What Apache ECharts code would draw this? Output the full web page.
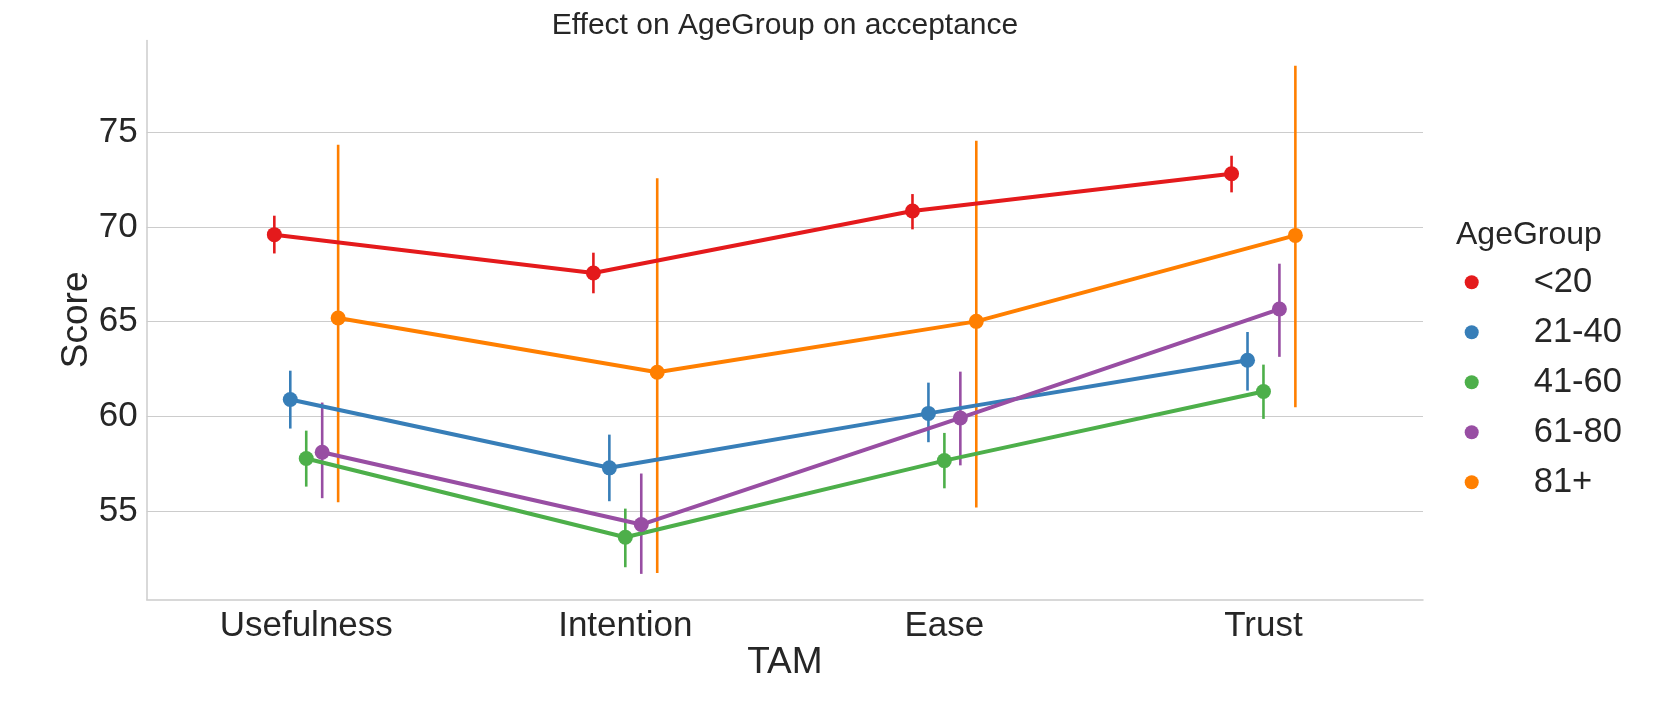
<!DOCTYPE html>
<html>
<head>
<meta charset="utf-8">
<script src="https://cdn.jsdelivr.net/npm/echarts@6/dist/echarts.min.js"></script>
<style>
  html, body { margin: 0; padding: 0; background: #fff; }
  #chart { width: 1656px; height: 720px; }
</style>
</head>
<body>
<div id="chart"></div>
<script>
// categories / groups
var tamNames = ['Usefulness', 'Intention', 'Ease', 'Trust'];
var ageGroups = ['<20', '21-40', '41-60', '61-80', '81+'];
var groupColors = ['#e41a1c', '#377eb8', '#4daf4a', '#984ea3', '#ff7f00'];
var yTicks = [55, 60, 65, 70, 75];

// mean score per TAM category (one array per age group)
var meanLt20 = [69.59, 67.57, 70.84, 72.80];
var mean21_40 = [60.90, 57.30, 60.17, 62.97];
var mean41_60 = [57.79, 53.64, 57.68, 61.32];
var mean61_80 = [58.12, 54.31, 59.93, 65.67];
var mean81p = [65.20, 62.34, 65.02, 69.55];

// confidence interval low / high
var lowLt20 = [68.60, 66.50, 69.87, 71.82];
var highLt20 = [70.59, 68.64, 71.73, 73.75];
var low21_40 = [59.37, 55.54, 58.65, 61.37];
var high21_40 = [62.42, 59.05, 61.79, 64.46];
var low41_60 = [56.31, 52.06, 56.22, 59.88];
var high41_60 = [59.26, 55.15, 59.14, 62.74];
var low61_80 = [55.70, 51.71, 57.43, 63.15];
var high61_80 = [60.74, 57.00, 62.37, 68.06];
var low81p = [55.48, 51.76, 55.21, 60.49];
var high81p = [74.33, 72.57, 74.54, 78.49];

var means = [meanLt20, mean21_40, mean41_60, mean61_80, mean81p];
var lows = [lowLt20, low21_40, low41_60, low61_80, low81p];
var highs = [highLt20, high21_40, high41_60, high61_80, high81p];

var FONT = '"Liberation Sans", Arial, sans-serif';
var TXT = '#262626';
var GRID_C = '#cccccc';

// dodge: hue levels spread around each category
var dodgeStep = 0.05;

var chart = echarts.init(document.getElementById('chart'));

var seriesList = [];
for (var j = 0; j < ageGroups.length; j++) {
	var off = (j - (ageGroups.length - 1) / 2) * dodgeStep;
	var lineData = [];
	var barData = [];
	for (var i = 0; i < tamNames.length; i++) {
		lineData.push([i + off, means[j][i]]);
		barData.push([i + off, lows[j][i], highs[j][i]]);
	}
	// error bars
	seriesList.push({
		name: ageGroups[j],
		type: 'custom',
		xAxisIndex: 1,
		silent: true,
		itemStyle: { color: groupColors[j] },
		encode: { x: 0, y: [1, 2] },
		renderItem: (function (col) {
			return function (params, api) {
				var p1 = api.coord([api.value(0), api.value(1)]);
				var p2 = api.coord([api.value(0), api.value(2)]);
				return {
					type: 'line',
					shape: { x1: p1[0], y1: p1[1], x2: p2[0], y2: p2[1] },
					style: { stroke: col, lineWidth: 2.6 }
				};
			};
		})(groupColors[j]),
		data: barData
	});
	// points + connecting line
	seriesList.push({
		name: ageGroups[j],
		type: 'line',
		xAxisIndex: 1,
		symbol: 'circle',
		symbolSize: 15,
		showSymbol: true,
		itemStyle: { color: groupColors[j] },
		lineStyle: { color: groupColors[j], width: 4 },
		emphasis: { disabled: true },
		data: lineData
	});
}

var option = {
	animation: false,
	backgroundColor: '#ffffff',
	title: [{
		text: 'Effect on AgeGroup on acceptance',
		left: 785,
		textAlign: 'center',
		top: 11,
		padding: 0,
		textStyle: { fontFamily: FONT, fontSize: 30, fontWeight: 'normal', color: TXT }
	}, {
		text: 'AgeGroup',
		left: 1456,
		top: 219,
		padding: 0,
		textStyle: { fontFamily: FONT, fontSize: 32, fontWeight: 'normal', color: TXT }
	}],
	legend: {
		orient: 'vertical',
		left: 1464.7,
		top: 262.3,
		padding: 0,
		itemGap: 10,
		itemWidth: 14,
		itemHeight: 14,
		icon: 'circle',
		data: ageGroups,
		textStyle: {
			fontFamily: FONT,
			fontSize: 34.5,
			color: TXT,
			lineHeight: 40,
			padding: [0, 0, 0, 50]
		}
	},
	grid: {
		left: 146.7,
		right: 233,
		top: 40.4,
		bottom: 120.7,
		containLabel: false,
		outerBoundsMode: 'none'
	},
	xAxis: [{
		type: 'category',
		data: tamNames,
		boundaryGap: true,
		name: 'TAM',
		nameLocation: 'middle',
		nameGap: 45,
		nameMoveOverlap: false,
		nameTextStyle: { fontFamily: FONT, fontSize: 37, color: TXT },
		axisLine: { show: true, onZero: false, lineStyle: { color: GRID_C, width: 1.5 } },
		axisTick: { show: false },
		splitLine: { show: false },
		axisLabel: { fontFamily: FONT, fontSize: 35, color: TXT, margin: 9.5 }
	}, {
		type: 'value',
		show: false,
		min: -0.5,
		max: 3.5
	}],
	yAxis: {
		type: 'value',
		min: 50.37,
		max: 79.83,
		name: 'Score',
		nameLocation: 'middle',
		nameGap: 51,
		nameMoveOverlap: false,
		nameTextStyle: { fontFamily: FONT, fontSize: 37, color: TXT },
		axisLine: { show: true, onZero: false, lineStyle: { color: GRID_C, width: 1.5 } },
		axisTick: { show: false, customValues: yTicks },
		axisLabel: { fontFamily: FONT, fontSize: 35, color: TXT, margin: 9, customValues: yTicks },
		splitLine: { show: true, lineStyle: { color: GRID_C, width: 1.2 } }
	},
	series: seriesList
};

chart.setOption(option);
</script>
</body>
</html>
